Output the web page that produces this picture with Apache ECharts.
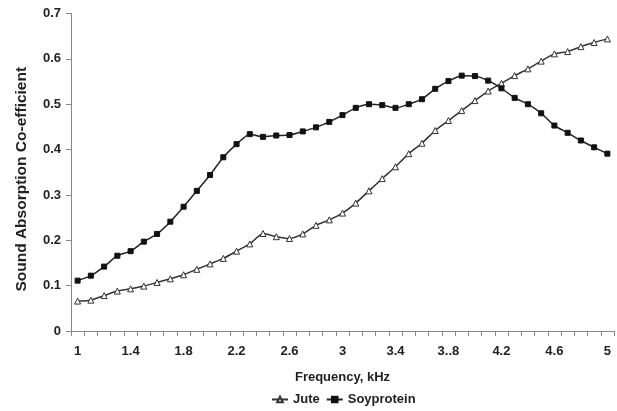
<!DOCTYPE html>
<html>
<head>
<meta charset="utf-8">
<script src="https://cdn.jsdelivr.net/npm/echarts@6/dist/echarts.min.js"></script>
<style>
html,body{margin:0;padding:0;background:#fff;}
#chart{width:617px;height:411px;}
</style>
</head>
<body>
<div id="chart"></div>
<script>
var frequencies = ['1.0','1.1','1.2','1.3','1.4','1.5','1.6','1.7','1.8','1.9','2.0','2.1','2.2','2.3','2.4','2.5','2.6','2.7','2.8','2.9','3.0','3.1','3.2','3.3','3.4','3.5','3.6','3.7','3.8','3.9','4.0','4.1','4.2','4.3','4.4','4.5','4.6','4.7','4.8','4.9','5.0'];
var tickLabels = ['1','1.4','1.8','2.2','2.6','3','3.4','3..8','4.2','4.6','5'];
var jute = [0.066,0.068,0.078,0.088,0.093,0.099,0.107,0.115,0.124,0.136,0.148,0.160,0.176,0.192,0.215,0.208,0.204,0.214,0.233,0.245,0.260,0.282,0.309,0.336,0.362,0.391,0.414,0.442,0.464,0.486,0.508,0.529,0.546,0.563,0.578,0.595,0.611,0.616,0.627,0.636,0.644];
var soyprotein = [0.111,0.122,0.142,0.166,0.176,0.197,0.214,0.241,0.274,0.309,0.344,0.383,0.412,0.434,0.428,0.431,0.432,0.440,0.449,0.461,0.476,0.492,0.500,0.498,0.492,0.500,0.511,0.534,0.551,0.563,0.562,0.552,0.535,0.514,0.500,0.480,0.453,0.437,0.420,0.405,0.391];

var FONT = '"Liberation Sans", Arial, sans-serif';
var chart = echarts.init(document.getElementById('chart'), null, {renderer:'canvas'});
chart.setOption({
  animation:false,
  backgroundColor:'#fff',
  textStyle:{fontFamily:FONT},
  grid:{left:71, right:3, top:13.5, bottom:80, containLabel:false},
  legend:{
    bottom:0, left:266,
    itemWidth:16, itemHeight:7, itemGap:6,
    textStyle:{fontFamily:FONT, fontWeight:'bold', fontSize:13, color:'#222'},
    data:['Jute','Soyprotein']
  },
  xAxis:{
    type:'category', data:frequencies, boundaryGap:true,
    name:'Frequency, kHz', nameLocation:'middle', nameGap:40,
    nameTextStyle:{fontFamily:FONT, fontWeight:'bold', fontSize:13, color:'#222'},
    axisLine:{lineStyle:{color:'#888', width:1}},
    axisTick:{show:true, interval:0, length:5, lineStyle:{color:'#888'}},
    axisLabel:{interval:3, margin:14, fontFamily:FONT, fontWeight:'bold', fontSize:13, color:'#222',
      formatter:function(v, i){ return tickLabels[i/4] !== undefined ? tickLabels[i/4] : ''; }},
    splitLine:{show:false}
  },
  yAxis:{
    type:'value', min:0, max:0.7, interval:0.1,
    name:'Sound Absorption Co-efficient', nameLocation:'middle', nameGap:41,
    nameTextStyle:{fontFamily:FONT, fontWeight:'bold', fontSize:15.5, color:'#222', padding:[0,14,0,0]},
    axisLine:{show:true, lineStyle:{color:'#888', width:1}},
    axisTick:{show:true, length:5, lineStyle:{color:'#888'}},
    axisLabel:{margin:10, fontFamily:FONT, fontWeight:'bold', fontSize:13, color:'#222'},
    splitLine:{show:false}
  },
  series:[
    {
      name:'Jute', type:'line', data:jute, smooth:0.2,
      symbol:'triangle', symbolSize:6, showAllSymbol:true,
      lineStyle:{color:'#333', width:1.5},
      itemStyle:{color:'#fff', borderColor:'#333', borderWidth:1}
    },
    {
      name:'Soyprotein', type:'line', data:soyprotein, smooth:0.2,
      symbol:'rect', symbolSize:5, showAllSymbol:true,
      lineStyle:{color:'#222', width:1.5},
      itemStyle:{color:'#111', borderColor:'#111', borderWidth:1}
    }
  ]
});
</script>
</body>
</html>
